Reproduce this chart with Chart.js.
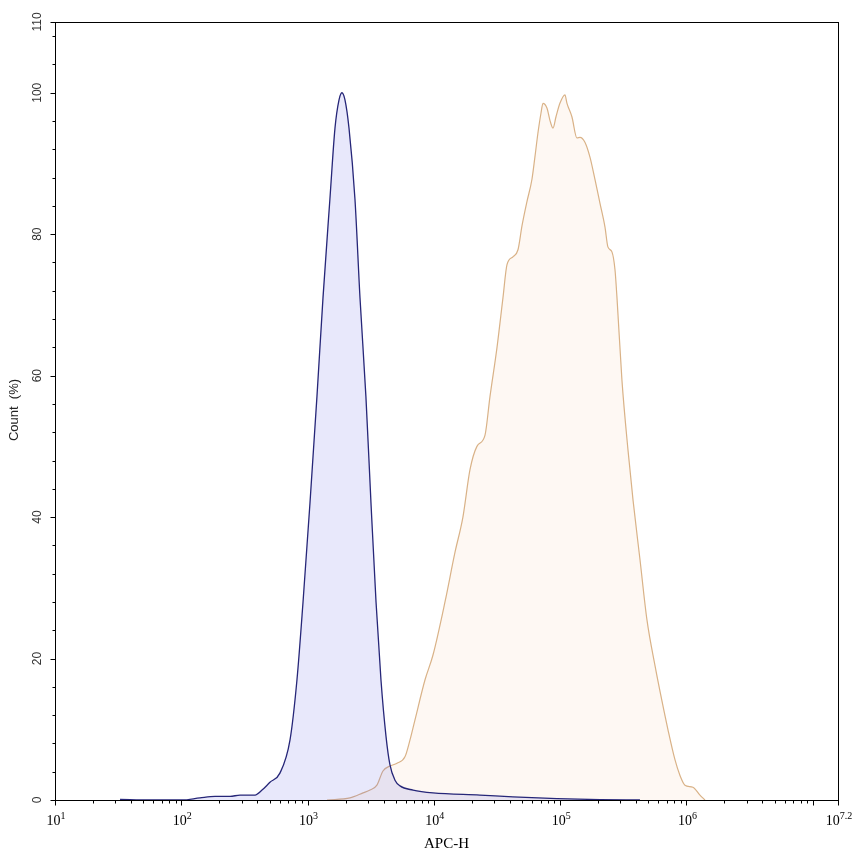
<!DOCTYPE html>
<html>
<head>
<meta charset="utf-8">
<script src="https://cdn.jsdelivr.net/npm/chart.js@4"></script>
<style>
  body { margin: 0; background: #fff; }
  #wrap { width: 853px; height: 856px; }
</style>
</head>
<body>
<div id="wrap"><canvas id="histChart" width="853" height="856"></canvas></div>
<script>
// x values are log10(APC-H), y values are Count (%)
const blueX = [1.515, 1.752, 2.006, 2.148, 2.267, 2.386, 2.465, 2.584, 2.639, 2.702, 2.781, 2.861, 2.916, 2.964, 3.019, 3.074, 3.122, 3.177, 3.217, 3.249, 3.272, 3.296, 3.328, 3.375, 3.415, 3.462, 3.502, 3.542, 3.581, 3.621, 3.652, 3.692, 3.732, 3.835, 3.993, 4.365, 4.626, 4.975, 5.315, 5.632];
const blueY = [0.1, 0, 0, 0.3, 0.5, 0.5, 0.7, 0.7, 1.4, 2.5, 3.8, 8.5, 17, 28, 42, 57, 71, 85, 95, 99, 100, 99, 95, 85, 71, 57, 42, 28, 17, 9, 5, 2.8, 2.0, 1.4, 1.0, 0.7, 0.45, 0.2, 0.05, 0];

const orangeX = [3.154, 3.336, 3.439, 3.494, 3.549, 3.597, 3.652, 3.708, 3.771, 3.811, 3.850, 3.930, 3.993, 4.088, 4.167, 4.230, 4.286, 4.341, 4.405, 4.444, 4.500, 4.547, 4.579, 4.626, 4.666, 4.698, 4.737, 4.777, 4.800, 4.824, 4.848, 4.864, 4.896, 4.919, 4.943, 4.967, 4.998, 5.038, 5.054, 5.093, 5.133, 5.157, 5.196, 5.236, 5.276, 5.315, 5.355, 5.378, 5.410, 5.434, 5.450, 5.489, 5.537, 5.577, 5.632, 5.687, 5.751, 5.806, 5.853, 5.909, 5.948, 5.988, 6.051, 6.107, 6.147];
const orangeY = [0, 0.3, 1.0, 1.4, 2.1, 4.1, 4.8, 5.2, 6.1, 8.5, 11.3, 17, 20.5, 28, 35, 40, 46.7, 50, 51.6, 57, 64, 71, 75.7, 76.8, 77.8, 81.2, 84.6, 87.8, 90.9, 94.3, 97.1, 98.5, 97.8, 96.1, 95.0, 96.6, 98.5, 99.7, 98.5, 96.6, 93.6, 93.7, 93.0, 90.9, 87.7, 84.4, 81.0, 78.2, 77.5, 75.0, 71, 59.4, 49.5, 42.4, 34, 25.5, 19, 14, 10, 5.7, 3.5, 2.1, 1.8, 0.7, 0];

const xTickExps = [1, 2, 3, 4, 5, 6, 7.2];
const xTickLabels = ['1', '2', '3', '4', '5', '6', '7.2'];
const xMajorTicks = [1, 2, 3, 4, 5, 6, 7, 7.2];
const yTicks = [0, 20, 40, 60, 80, 100, 110];

const toPoints = (xs, ys) => xs.map((v, i) => ({ x: v, y: ys[i] }));

// draws the box, ticks and all labels using the chart's scales
const axesPlugin = {
    id: 'axesPlugin',
    afterDraw(chart) {
        const { ctx, chartArea: a, scales: { x, y } } = chart;
        ctx.save();
        ctx.strokeStyle = '#000';
        ctx.lineWidth = 1;
        ctx.strokeRect(Math.round(a.left) + 0.5, Math.round(a.top) + 0.5,
            Math.round(a.right - a.left), Math.round(a.bottom - a.top));

        const yb = Math.round(a.bottom) + 0.5;
        const xl = Math.round(a.left) + 0.5;
        ctx.beginPath();
        // x major ticks
        xMajorTicks.forEach(v => {
            const px = Math.round(x.getPixelForValue(v)) + 0.5;
            ctx.moveTo(px, yb); ctx.lineTo(px, yb + 5);
        });
        // x minor ticks (2..9 in every decade)
        for (let d = 1; d < 7.2; d++) {
            for (let k = 2; k <= 9; k++) {
                const v = d + Math.log10(k);
                if (v >= 7.2) continue;
                const px = Math.round(x.getPixelForValue(v)) + 0.5;
                ctx.moveTo(px, yb); ctx.lineTo(px, yb + 3);
            }
        }
        // y major ticks
        yTicks.forEach(v => {
            const py = Math.round(y.getPixelForValue(v)) + 0.5;
            ctx.moveTo(xl, py); ctx.lineTo(xl - 5, py);
        });
        // y minor ticks every 4
        for (let v = 4; v < 110; v += 4) {
            if (v % 20 === 0) continue;
            const py = Math.round(y.getPixelForValue(v)) + 0.5;
            ctx.moveTo(xl, py); ctx.lineTo(xl - 3, py);
        }
        ctx.stroke();

        // x tick labels: 10 with exponent
        ctx.fillStyle = '#000';
        ctx.textBaseline = 'alphabetic';
        ctx.textAlign = 'left';
        xTickExps.forEach((v, i) => {
            const px = x.getPixelForValue(v);
            ctx.font = '14px "Liberation Serif", serif';
            const bw = ctx.measureText('10').width;
            ctx.font = '10px "Liberation Serif", serif';
            const ew = ctx.measureText(xTickLabels[i]).width;
            const sx = px - (bw + ew) / 2 + 1;
            ctx.font = '14px "Liberation Serif", serif';
            ctx.fillText('10', sx, a.bottom + 25);
            ctx.font = '10px "Liberation Serif", serif';
            ctx.fillText(xTickLabels[i], sx + bw, a.bottom + 19);
        });

        // x title
        ctx.font = '15px "Liberation Serif", serif';
        ctx.textAlign = 'center';
        ctx.fillText('APC-H', (a.left + a.right) / 2, a.bottom + 48);

        // y tick labels, rotated
        ctx.fillStyle = '#333';
        ctx.font = '12px "Liberation Sans", Arial, sans-serif';
        ctx.textAlign = 'center';
        ctx.textBaseline = 'middle';
        yTicks.forEach(v => {
            const py = y.getPixelForValue(v);
            ctx.save();
            ctx.translate(38, py);
            ctx.rotate(-Math.PI / 2);
            ctx.fillText(String(v), 0, 0);
            ctx.restore();
        });

        // y title
        ctx.fillStyle = '#222';
        ctx.font = '13px "Liberation Sans", Arial, sans-serif';
        ctx.save();
        ctx.translate(14, 410);
        ctx.rotate(-Math.PI / 2);
        ctx.fillText('Count  (%)', 0, 0);
        ctx.restore();
        ctx.restore();
    }
};

const ctx = document.getElementById('histChart').getContext('2d');
const chart = new Chart(ctx, {
    type: 'line',
    data: {
        datasets: [
            {
                label: 'Control',
                data: toPoints(blueX, blueY),
                borderColor: '#262678',
                borderWidth: 1.3,
                backgroundColor: 'rgba(100, 100, 230, 0.15)',
                fill: 'origin',
                pointRadius: 0,
                cubicInterpolationMode: 'monotone',
                order: 0
            },
            {
                label: 'Sample',
                data: toPoints(orangeX, orangeY),
                borderColor: '#d9b287',
                borderWidth: 1.2,
                backgroundColor: 'rgba(240, 170, 100, 0.08)',
                fill: 'origin',
                pointRadius: 0,
                cubicInterpolationMode: 'monotone',
                order: 1
            }
        ]
    },
    options: {
        responsive: false,
        animation: false,
        layout: {
            padding: { left: 55, top: 22, right: 15, bottom: 56 }
        },
        plugins: {
            legend: { display: false },
            tooltip: { enabled: false }
        },
        scales: {
            x: {
                type: 'linear',
                min: 1,
                max: 7.2,
                display: false
            },
            y: {
                type: 'linear',
                min: 0,
                max: 110,
                display: false
            }
        }
    },
    plugins: [axesPlugin]
});
</script>
</body>
</html>
